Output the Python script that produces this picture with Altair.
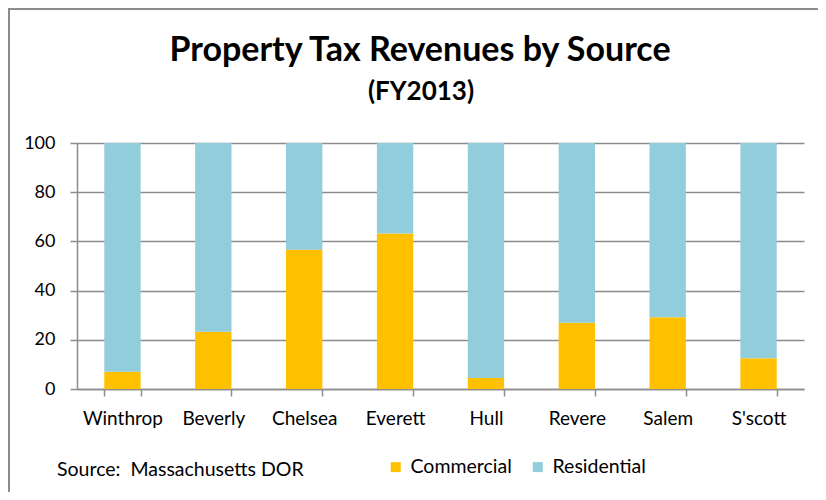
import altair as alt
import pandas as pd

towns = ["Winthrop", "Beverly", "Chelsea", "Everett", "Hull", "Revere", "Salem", "S'scott"]
commercial = [7.0, 23.3, 56.6, 63.2, 4.5, 26.9, 29.2, 12.5]
residential = [93.0, 76.7, 43.4, 36.8, 95.5, 73.1, 70.8, 87.5]
sources = ["Commercial", "Residential"]
colors = ["#FFC000", "#92CDDC"]
y_ticks = [0, 20, 40, 60, 80, 100]

rows = []
for t, c, r in zip(towns, commercial, residential):
    rows.append({"town": t, "source": "Commercial", "value": c, "ord": 0})
    rows.append({"town": t, "source": "Residential", "value": r, "ord": 1})
df = pd.DataFrame(rows)

FONT = "Lato"
GRAY = "#8c8c8c"

bars = alt.Chart(df).mark_bar().encode(
    x=alt.X(
        "town:N", sort=towns, title=None,
        scale=alt.Scale(paddingInner=0.6, paddingOuter=0.3),
        axis=alt.Axis(labelAngle=0, tickBand="extent", tickSize=7, tickColor=GRAY,
                      tickWidth=1.5, domainColor=GRAY, domainWidth=1.5, labelFont=FONT,
                      labelFontSize=19, labelColor="black", labelPadding=13, grid=False),
    ),
    y=alt.Y(
        "value:Q", stack="zero", title=None,
        scale=alt.Scale(domain=[0, 100], nice=False),
        axis=alt.Axis(values=y_ticks, tickSize=7, tickColor=GRAY, tickWidth=1.5,
                      domainColor=GRAY, domainWidth=1.5, labelFont=FONT, labelFontSize=18,
                      labelColor="black", labelPadding=15, grid=True, gridColor=GRAY,
                      gridWidth=1.5),
    ),
    color=alt.Color(
        "source:N", scale=alt.Scale(domain=sources, range=colors),
        legend=alt.Legend(title=None, orient="none", legendX=309, legendY=314,
                          direction="horizontal", symbolType="square", symbolSize=100,
                          symbolStrokeWidth=0, labelFont=FONT, labelFontSize=19.5,
                          labelColor="black", labelOffset=5, columnPadding=16, padding=0),
    ),
    order=alt.Order("ord:Q"),
)

one = pd.DataFrame({"k": [0]})

title = alt.Chart(one).mark_text(
    text="Property Tax Revenues by Source", font=FONT, fontSize=34, fontWeight="bold",
    color="black", align="center", baseline="alphabetic",
).encode(x=alt.value(343), y=alt.value(-82))

subtitle = alt.Chart(one).mark_text(
    text="(FY2013)", font=FONT, fontSize=26, fontWeight="bold",
    color="black", align="center", baseline="alphabetic",
).encode(x=alt.value(344), y=alt.value(-43))

source = alt.Chart(one).mark_text(
    text="Source:\u00a0 Massachusetts DOR", font=FONT, fontSize=19.5,
    color="black", align="left", baseline="middle",
).encode(x=alt.value(-20), y=alt.value(327))

frame_top = alt.Chart(one).mark_rule(color=GRAY, strokeWidth=2).encode(
    x=alt.value(-69), x2=alt.value(760), y=alt.value(-134)
)
frame_left = alt.Chart(one).mark_rule(color=GRAY, strokeWidth=2).encode(
    x=alt.value(-68), y=alt.value(-135), y2=alt.value(360)
)

chart = alt.layer(bars, title, subtitle, source, frame_top, frame_left).properties(
    width=727, height=246,
    autosize=alt.AutoSizeParams(type="none"),
    padding={"left": 69, "top": 135, "right": 14, "bottom": 103},
).configure_view(stroke=None)

chart.save("out.html", embed_options={"renderer": "svg", "actions": False})
